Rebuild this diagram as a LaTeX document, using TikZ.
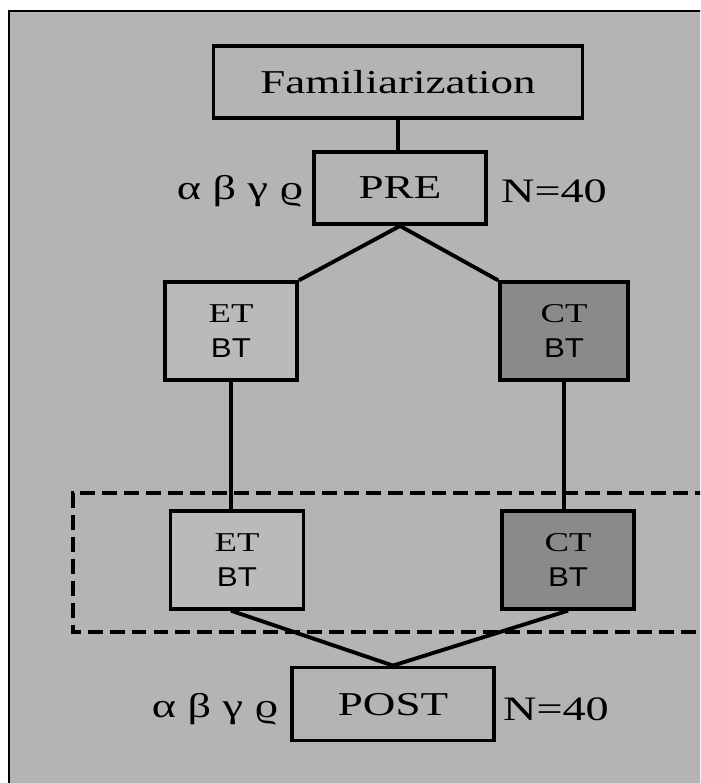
\documentclass[tikz,border=0pt]{standalone}
\usepackage{fontspec}
\setmainfont[FakeStretch=1.35]{Liberation Serif}
\newfontfamily\btfont[FakeStretch=1.15]{Liberation Sans}
\definecolor{bggray}{RGB}{180,180,180}
\definecolor{etgray}{RGB}{186,186,186}
\definecolor{ctgray}{RGB}{138,138,138}

\begin{document}
\begin{tikzpicture}[x=0.02cm,y=-0.02cm,
  stagebox/.style={draw,line width=2.2pt,inner sep=0pt,text depth=0pt,font=\fontsize{19}{22}\selectfont},
  armbox/.style={draw,line width=2.2pt,inner sep=0pt,align=center,minimum height=1.95cm,font=\fontsize{15.5}{20}\selectfont},
  side/.style={font=\fontsize{19.5}{22}\selectfont},
  link/.style={line width=2.2pt}]
\fill[white] (0,0) rectangle (700,783);
\clip (0,0) rectangle (700,783);
\fill[bggray] (9,11) rectangle (710,790);
\draw[line width=1pt] (9,790) -- (9,11) -- (710,11);

% dashed group round the second pair
\draw[link,dash pattern=on 8.5pt off 4pt] (710,493) -- (73,493) -- (73,632) -- (710,632);

\node[stagebox,minimum width=7.38cm,minimum height=1.44cm] (fam) at (398,82) {Familiarization};
\node[stagebox,minimum width=3.44cm,minimum height=1.44cm] (pre) at (400,188) {PRE};
\node[side] (preL) at (240,191) {α β γ ϱ};
\node[side] (preN) at (554,191) {N=40};

\node[armbox,fill=etgray,minimum width=2.64cm] (et1) at (231,331) {ET\\{\btfont BT}};
\node[armbox,fill=ctgray,minimum width=2.56cm] (ct1) at (564,331) {CT\\{\btfont BT}};

\node[armbox,fill=etgray,minimum width=2.66cm] (et2) at (237,560) {ET\\{\btfont BT}};
\node[armbox,fill=ctgray,minimum width=2.64cm] (ct2) at (568,560) {CT\\{\btfont BT}};

\node[stagebox,minimum width=4.04cm,minimum height=1.46cm] (post) at (393,704) {POST};
\node[side] (postL) at (215,709) {α β γ ϱ};
\node[side] (postN) at (556,709) {N=40};

\draw[link] (fam.south) -- (fam.south |- pre.north);
\draw[link] (pre.south) -- (et1.north east);
\draw[link] (pre.south) -- (ct1.north west);
\draw[link] (et1.south) -- (et1.south |- et2.north);
\draw[link] (ct1.south) -- (ct1.south |- ct2.north);
\draw[link] (et1.south |- et2.south) -- (post.north);
\draw[link] (ct2.south) -- (post.north);
\end{tikzpicture}
\end{document}
